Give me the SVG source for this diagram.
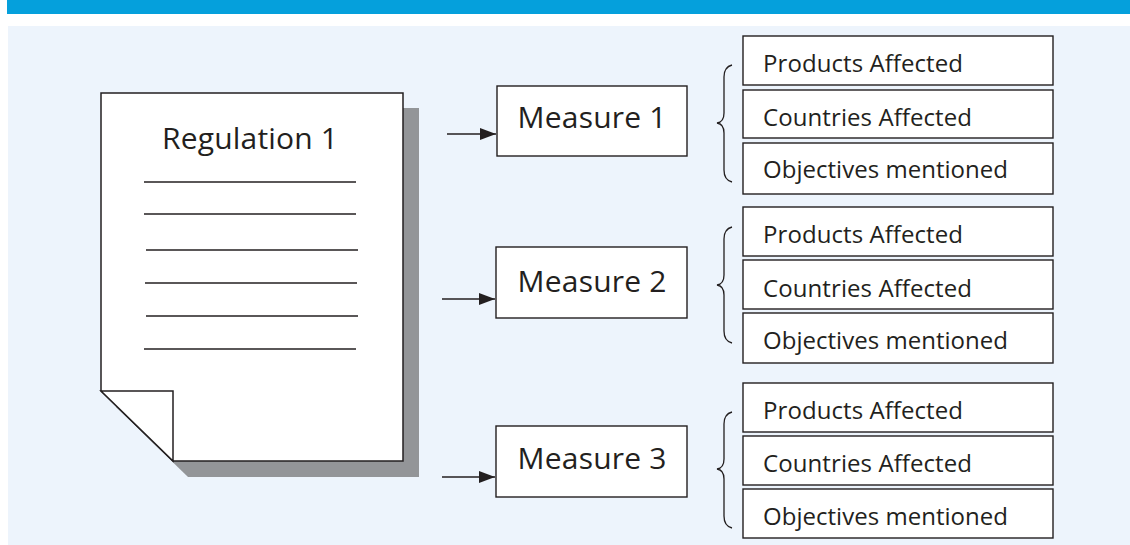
<svg xmlns="http://www.w3.org/2000/svg" width="1130" height="545" viewBox="0 0 1130 545">
<style>
.txt{font-family:"Open Sans","Liberation Sans",Arial,sans-serif;fill:#231f20}
.box{fill:#ffffff;stroke:#231f20;stroke-width:1.4}
.rule{stroke:#231f20;stroke-width:1.5}
.brace{fill:none;stroke:#231f20;stroke-width:1.3}
.conn{stroke:#231f20;stroke-width:1.6;fill:none}
.m{font-size:30px}
.s{font-size:24px}
</style>
<defs>
<marker id="arrow" viewBox="0 0 16 12" markerWidth="16" markerHeight="12" refX="16" refY="6" orient="auto" markerUnits="userSpaceOnUse">
<path d="M0,0 L16,6 L0,12 Z" fill="#231f20"/>
</marker>
</defs>
<rect x="7" y="0" width="1123" height="14" fill="#05a0dc"/>
<rect x="8" y="26" width="1122" height="519" fill="#edf4fc"/>

<g id="regulation">
<path d="M116,108 H419 V477 H188 L116,407 Z" fill="#939598"/>
<path d="M101,93 H403 V461 H173 L101,391 Z" fill="#ffffff" stroke="#231f20" stroke-width="1.5"/>
<path d="M101,391 H173 V461 Z" fill="#ffffff" stroke="#231f20" stroke-width="1.5"/>
<text class="txt" x="250" y="149" font-size="30" text-anchor="middle" textLength="176">Regulation 1</text>
<line class="rule" x1="144" y1="182" x2="356" y2="182"/>
<line class="rule" x1="144" y1="214" x2="356" y2="214"/>
<line class="rule" x1="146" y1="250" x2="358" y2="250"/>
<line class="rule" x1="145" y1="283" x2="357" y2="283"/>
<line class="rule" x1="146" y1="316" x2="358" y2="316"/>
<line class="rule" x1="144" y1="349" x2="356" y2="349"/>
</g>

<g id="connectors">
<line class="conn" x1="447" y1="134" x2="496" y2="134" marker-end="url(#arrow)"/>
<line class="conn" x1="442" y1="299" x2="495" y2="299" marker-end="url(#arrow)"/>
<line class="conn" x1="442" y1="477" x2="495" y2="477" marker-end="url(#arrow)"/>
<path class="brace" d="M732,65 Q724,67 724,77 V113 Q724,122 717,123 Q724,124 724,133 V170 Q724,180 732,182"/>
<path class="brace" d="M732,227 Q724,229 724,239 V275 Q724,284 717,285 Q724,286 724,295 V331 Q724,341 732,343"/>
<path class="brace" d="M732,412 Q724,414 724,424 V459 Q724,468 717,469 Q724,470 724,479 V516 Q724,526 732,528"/>
</g>

<g id="measure1">
<rect class="box" x="497" y="86" width="190" height="70"/>
<text class="txt m" x="592" y="128" text-anchor="middle" textLength="149">Measure 1</text>
</g>
<g id="measure2">
<rect class="box" x="496" y="247" width="191" height="71"/>
<text class="txt m" x="592" y="292" text-anchor="middle" textLength="149">Measure 2</text>
</g>
<g id="measure3">
<rect class="box" x="496" y="426" width="191" height="71"/>
<text class="txt m" x="592" y="469" text-anchor="middle" textLength="149">Measure 3</text>
</g>

<g id="m1-products">
<rect class="box" x="743" y="36" width="310" height="49"/>
<text class="txt s" x="763" y="72" textLength="200">Products Affected</text>
</g>
<g id="m1-countries">
<rect class="box" x="743" y="90" width="310" height="48"/>
<text class="txt s" x="763" y="126" textLength="209">Countries Affected</text>
</g>
<g id="m1-objectives">
<rect class="box" x="743" y="143" width="310" height="51"/>
<text class="txt s" x="763" y="178" textLength="245">Objectives mentioned</text>
</g>

<g id="m2-products">
<rect class="box" x="743" y="207" width="310" height="49"/>
<text class="txt s" x="763" y="243" textLength="200">Products Affected</text>
</g>
<g id="m2-countries">
<rect class="box" x="743" y="260" width="310" height="49"/>
<text class="txt s" x="763" y="297" textLength="209">Countries Affected</text>
</g>
<g id="m2-objectives">
<rect class="box" x="743" y="313" width="310" height="50"/>
<text class="txt s" x="763" y="349" textLength="245">Objectives mentioned</text>
</g>

<g id="m3-products">
<rect class="box" x="743" y="383" width="310" height="49"/>
<text class="txt s" x="763" y="419" textLength="200">Products Affected</text>
</g>
<g id="m3-countries">
<rect class="box" x="743" y="436" width="310" height="49"/>
<text class="txt s" x="763" y="472" textLength="209">Countries Affected</text>
</g>
<g id="m3-objectives">
<rect class="box" x="743" y="489" width="310" height="49"/>
<text class="txt s" x="763" y="525" textLength="245">Objectives mentioned</text>
</g>
</svg>
